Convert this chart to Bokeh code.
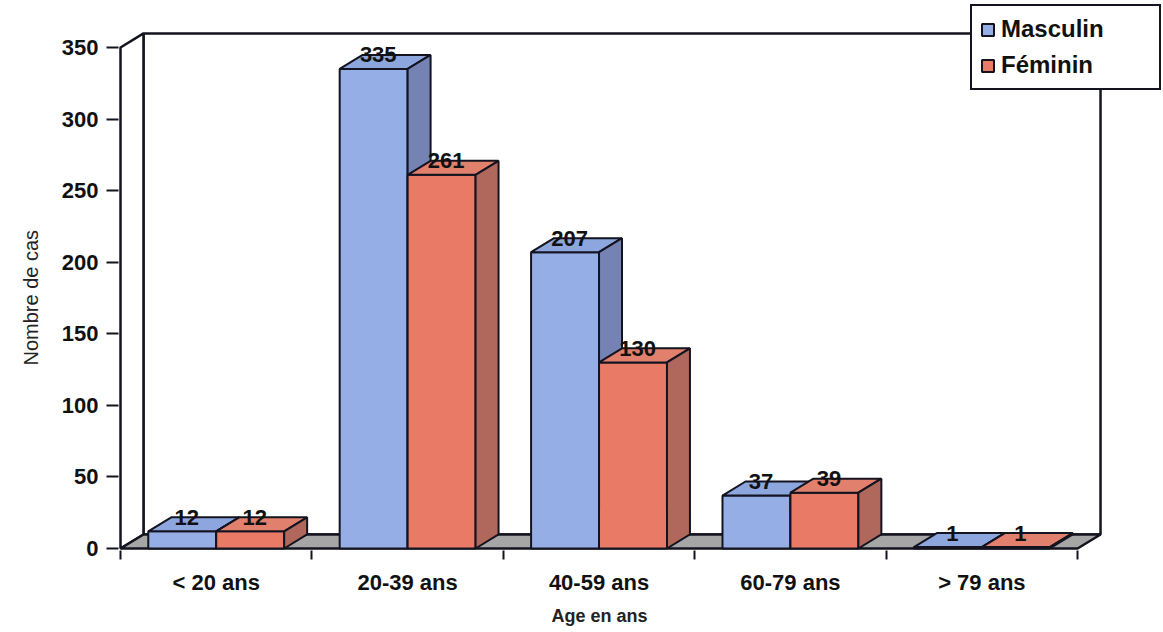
from bokeh.plotting import figure
from bokeh.models import Range1d, FixedTicker, Legend, LegendItem, Title
from bokeh.embed import file_html
from bokeh.resources import INLINE
from bokeh.core.properties import value

# Cases by age group and sex
categories = ["< 20 ans", "20-39 ans", "40-59 ans", "60-79 ans", "> 79 ans"]
masculin = [12, 335, 207, 37, 1]
feminin = [12, 261, 130, 39, 1]
y_ticks = [0, 50, 100, 150, 200, 250, 300, 350]
y_max = 350

FONT = value("Liberation Sans")
EDGE = "#141420"

# pseudo-3D depth (in category units along x, count units along y)
DX = 0.12
DY = 9.8
BAR_W = 0.355

p = figure(width=1163, height=632, output_backend="svg", toolbar_location=None,
           x_range=Range1d(-0.0105, 5.449), y_range=Range1d(-1.4, 381.4),
           min_border_left=118, min_border_right=0, min_border_top=2,
           min_border_bottom=82)
p.outline_line_color = None
p.xgrid.visible = False
p.ygrid.visible = False
p.background_fill_color = "white"

n = len(categories)

# back wall, left wall and floor
p.patch([DX, n + DX, n + DX, DX], [DY, DY, y_max + DY, y_max + DY],
        fill_color="white", line_color=EDGE, line_width=2.5)
p.patch([0, DX, DX, 0], [0, DY, y_max + DY, y_max],
        fill_color="white", line_color=EDGE, line_width=2.5)
p.patch([0, n, n + DX, DX], [0, 0, DY, DY],
        fill_color="#a6a6a6", line_color=EDGE, line_width=2.5)


def draw_bars(vals, offset, front, top, side):
    x0 = [i + 0.5 + offset for i in range(n)]
    x1 = [x + BAR_W for x in x0]
    r = p.quad(left=x0, right=x1, bottom=[0] * n, top=vals,
               fill_color=front, line_color=EDGE, line_width=2)
    p.patches([[a, b, b + DX, a + DX] for a, b in zip(x0, x1)],
              [[v, v, v + DY, v + DY] for v in vals],
              fill_color=top, line_color=EDGE, line_width=2)
    p.patches([[b, b + DX, b + DX, b] for b in x1],
              [[0, DY, v + DY, v] for v in vals],
              fill_color=side, line_color=EDGE, line_width=2)
    p.text(x=[(a + b) / 2 + DX * 0.2 for a, b in zip(x0, x1)],
           y=[v + DY for v in vals], text=[str(v) for v in vals],
           text_font=FONT, text_font_style="bold", text_font_size="22px",
           text_color="#111111", text_align="center", text_baseline="middle")
    return r


r_m = draw_bars(masculin, -BAR_W, "#96aee6", "#8ea6de", "#7482b4")
r_f = draw_bars(feminin, 0.0, "#e97a66", "#e2806e", "#b0675c")

# x axis: labels centred in each group, tick marks between groups
xa = p.xaxis[0]
xa.ticker = FixedTicker(ticks=[i + 0.5 for i in range(n)],
                        minor_ticks=list(range(n + 1)))
xa.major_label_overrides = {i + 0.5: c for i, c in enumerate(categories)}
xa.axis_line_color = None
xa.major_tick_line_color = None
xa.major_tick_out = 8
xa.major_tick_in = 0
xa.minor_tick_line_color = EDGE
xa.minor_tick_line_width = 2
xa.minor_tick_out = 9
xa.minor_tick_in = 0
xa.major_label_standoff = 10
xa.major_label_text_font = "Liberation Sans"
xa.major_label_text_font_style = "bold"
xa.major_label_text_font_size = "22px"
xa.major_label_text_color = "#111111"

ya = p.yaxis[0]
ya.ticker = FixedTicker(ticks=y_ticks)
ya.axis_line_color = None
ya.major_tick_line_color = EDGE
ya.major_tick_line_width = 2
ya.major_tick_out = 12
ya.major_tick_in = 0
ya.minor_tick_line_color = None
ya.major_label_standoff = 8
ya.major_label_text_font = "Liberation Sans"
ya.major_label_text_font_style = "bold"
ya.major_label_text_font_size = "22px"
ya.major_label_text_color = "#111111"

# axis titles, placed under / beside the plotted region rather than the whole frame
p.add_layout(Title(text="Age en ans", align="left", offset=433, standoff=12,
                   text_font="Liberation Sans", text_font_style="bold",
                   text_font_size="18px", text_color="#222222"), "below")
p.add_layout(Title(text="Nombre de cas", align="left", offset=185, standoff=34,
                   text_font="Liberation Sans", text_font_style="normal",
                   text_font_size="20px", text_color="#222222"), "left")

legend = Legend(items=[LegendItem(label="Masculin", renderers=[r_m]),
                       LegendItem(label="Féminin", renderers=[r_f])],
                location="top_right", margin=2, padding=8, spacing=6,
                glyph_width=15, glyph_height=15, label_height=30,
                label_standoff=6, label_width=150,
                label_text_font="Liberation Sans", label_text_font_style="bold",
                label_text_font_size="24px", label_text_color="#111111",
                border_line_color=EDGE, border_line_width=2.5,
                border_line_alpha=1.0,
                background_fill_color="white", background_fill_alpha=1.0)
p.add_layout(legend)

open("out.html", "w").write(file_html(p, INLINE))
